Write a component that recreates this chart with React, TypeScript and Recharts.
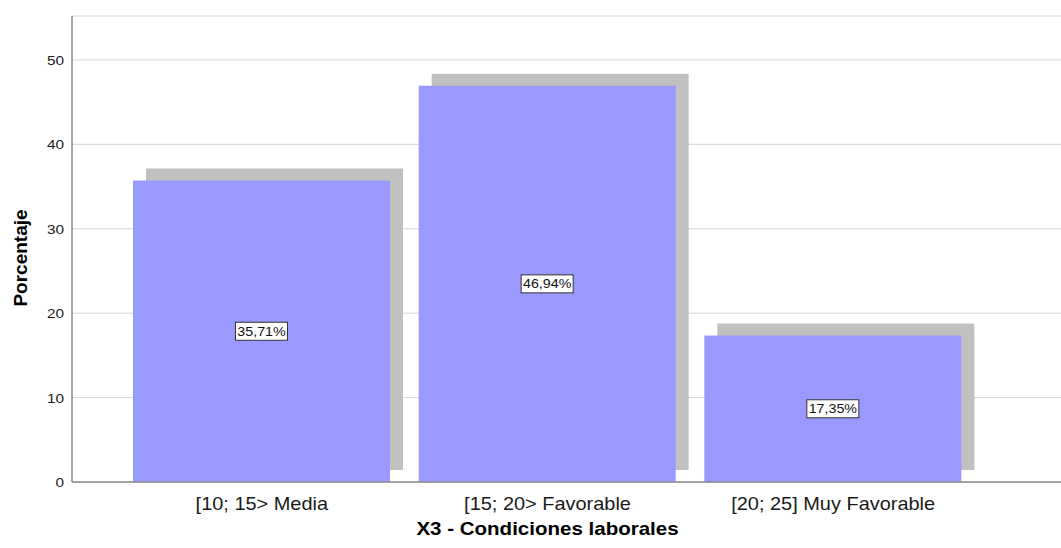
import React from 'react'
import { BarChart, Bar, XAxis, YAxis, CartesianGrid, LabelList, Label } from 'recharts'

const categories = ['[10; 15> Media', '[15; 20> Favorable', '[20; 25] Muy Favorable']
const percentages = [35.71, 46.94, 17.35]
const yTicks = [0, 10, 20, 30, 40, 50]

const data = categories.map((name, i) => ({ name, pct: percentages[i] }))

const FONT = "Arial, 'Liberation Sans', sans-serif"
const STRETCH = 1.14
const BAR_FILL = '#9999ff'
const SHADOW_FILL = '#c0c0c0'
const AXIS_COLOR = '#8a8a8a'
const GRID_COLOR = '#d6d6d6'

// bar with a flat drop shadow up and to the right
function ShadowBar(props: any) {
  const { x, y, width, height } = props
  if (height <= 0) return null
  return (
    <g>
      <rect x={x + 13} y={y - 12} width={width} height={height} fill={SHADOW_FILL} />
      <rect x={x} y={y} width={width} height={height} fill={BAR_FILL} />
    </g>
  )
}

function ValueBox(props: any) {
  const { x, y, width, height, value } = props
  const cx = x + width / 2
  const cy = y + height / 2
  const text = `${Number(value).toFixed(2).replace('.', ',')}%`
  return (
    <g>
      <rect x={cx - 26} y={cy - 9} width={52} height={18} fill="#ffffff" stroke="#333333" strokeWidth={1} />
      <text
        transform={`translate(${cx},${cy + 4.5}) scale(${STRETCH},1)`}
        textAnchor="middle"
        fontFamily={FONT}
        fontSize={12.5}
        fill="#111111"
      >
        {text}
      </text>
    </g>
  )
}

function CategoryTick(props: any) {
  const { x, y, payload } = props
  return (
    <text
      transform={`translate(${x},${y + 25.5}) scale(${STRETCH},1)`}
      textAnchor="middle"
      fontFamily={FONT}
      fontSize={17.5}
      fill="#1a1a1a"
    >
      {payload.value}
    </text>
  )
}

function ValueTick(props: any) {
  const { x, y, payload } = props
  return (
    <text
      transform={`translate(${x},${y + 5}) scale(${STRETCH},1)`}
      textAnchor="end"
      fontFamily={FONT}
      fontSize={13.5}
      fill="#1a1a1a"
    >
      {payload.value}
    </text>
  )
}

function XTitle(props: any) {
  const { viewBox } = props
  const cx = viewBox.x + 47 + (viewBox.width - 47 - 85) / 2
  return (
    <text
      transform={`translate(${cx},${viewBox.y + 53}) scale(${STRETCH},1)`}
      textAnchor="middle"
      fontFamily={FONT}
      fontSize={18}
      fontWeight="bold"
      fill="#000000"
    >
      X3 - Condiciones laborales
    </text>
  )
}

function YTitle(props: any) {
  const { viewBox } = props
  return (
    <text
      transform={`translate(27,${viewBox.y + viewBox.height / 2 + 9}) rotate(-90)`}
      textAnchor="middle"
      fontFamily={FONT}
      fontSize={19}
      fontWeight="bold"
      fill="#000000"
    >
      Porcentaje
    </text>
  )
}

export default function App() {
  return (
    <div style={{ position: 'absolute', left: 0, top: 0, width: 1061, height: 548, background: '#ffffff' }}>
      <BarChart
        width={1061}
        height={548}
        data={data}
        margin={{ top: 16, right: 0, bottom: 26, left: 0 }}
      >
        <CartesianGrid vertical={false} stroke={GRID_COLOR} />
        <XAxis
          dataKey="name"
          height={40}
          padding={{ left: 47, right: 85 }}
          tickLine={false}
          tickSize={0}
          axisLine={{ stroke: AXIS_COLOR, strokeWidth: 1.5 }}
          tick={<CategoryTick />}
          interval={0}
        >
          <Label content={<XTitle />} />
        </XAxis>
        <YAxis
          width={72}
          domain={[0, 55.2]}
          ticks={yTicks}
          tickLine={false}
          tickSize={0}
          tickMargin={8}
          axisLine={{ stroke: AXIS_COLOR, strokeWidth: 1.5 }}
          tick={<ValueTick />}
        >
          <Label content={<YTitle />} />
        </YAxis>
        <Bar dataKey="pct" barSize={257} shape={<ShadowBar />} isAnimationActive={false}>
          <LabelList dataKey="pct" content={<ValueBox />} />
        </Bar>
      </BarChart>
    </div>
  )
}
